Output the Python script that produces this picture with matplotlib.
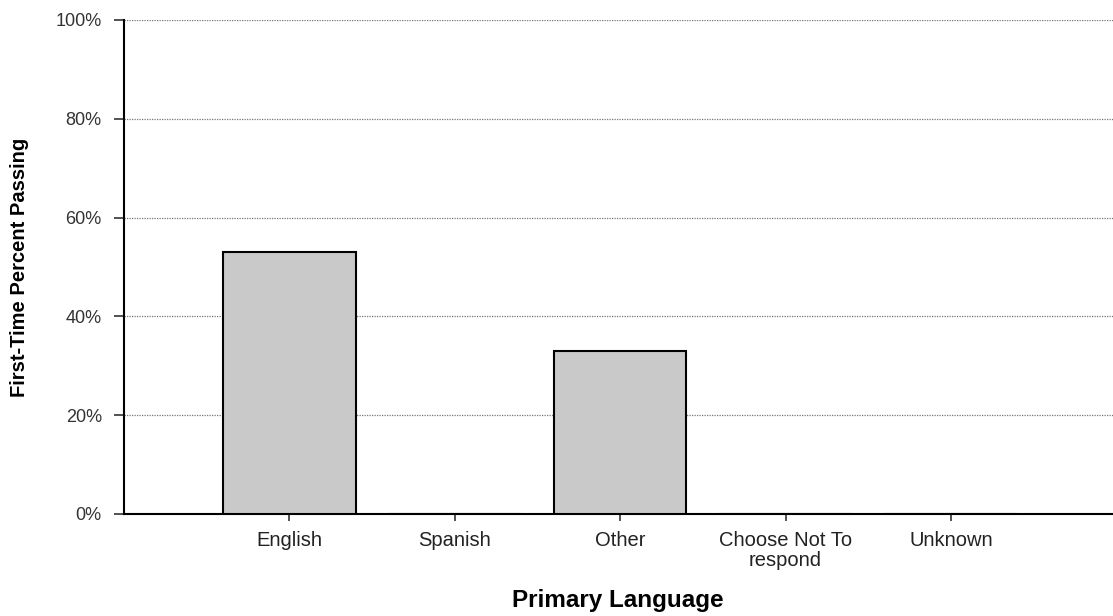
import matplotlib
matplotlib.use("Agg")
import matplotlib.pyplot as plt
from matplotlib.ticker import PercentFormatter

# data
languages = ["English", "Spanish", "Other", "Choose Not To\nrespond", "Unknown"]
passing = [53, 0, 33, 0, 0]
y_ticks = [0, 20, 40, 60, 80, 100]

plt.rcParams['font.family'] = ['Liberation Sans', 'DejaVu Sans']

fig = plt.figure(figsize=(11.13, 6.16), dpi=100)
ax = fig.add_axes([0.1114, 0.1656, 0.8886, 0.802])

x = list(range(len(languages)))
ax.bar(x, passing, width=0.8, color="#c9c9c9", edgecolor="black",
       linewidth=1.5, zorder=3)

ax.set_xlim(-1.0, 4.98)
ax.set_ylim(0, 100)
ax.set_yticks(y_ticks)
ax.yaxis.set_major_formatter(PercentFormatter(decimals=0))
ax.set_xticks(x)
ax.set_xticklabels(languages, fontsize=14.5, linespacing=1.1)
ax.tick_params(axis="y", labelsize=13, length=7, width=1.2, color="#333333",
               labelcolor="#333333", pad=9)
ax.tick_params(axis="x", length=5, width=1.2, color="#333333", labelcolor="#222222", pad=7)

ax.grid(axis="y", linestyle=(0, (1, 1)), color="#777777", linewidth=0.9, zorder=0)

for s in ["top", "right"]:
    ax.spines[s].set_visible(False)
ax.spines["left"].set_linewidth(1.5)
ax.spines["bottom"].set_linewidth(1.5)

ax.set_ylabel("First-Time Percent Passing", fontsize=14.5, fontweight="bold")
ax.yaxis.set_label_coords(-0.096, 0.5)
ax.set_xlabel("Primary Language", fontsize=17.5, fontweight="bold")
ax.xaxis.set_label_coords(0.499, -0.152)

fig.savefig("out.png", dpi=100)
